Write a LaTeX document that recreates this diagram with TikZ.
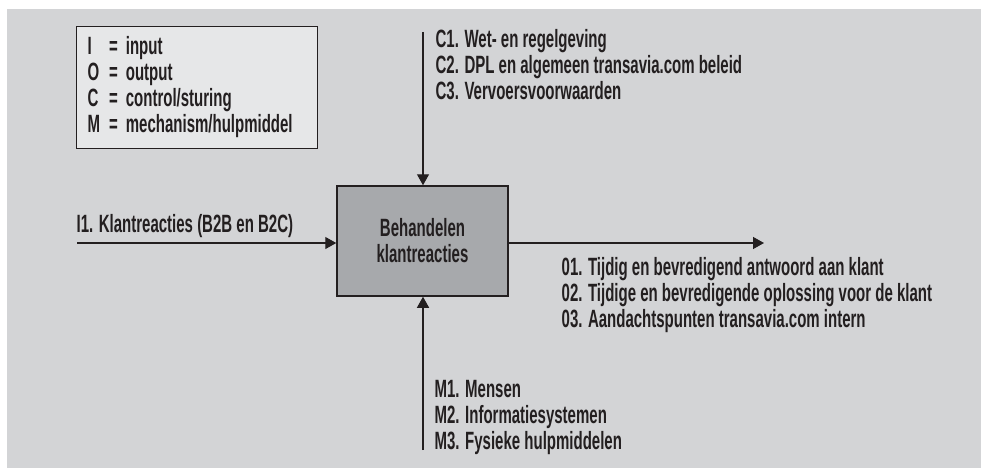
\documentclass[tikz,border=0pt]{standalone}
\usepackage{fontspec}
\newfontfamily\ideffont{Liberation Sans Bold}[FakeStretch=0.6]
\usetikzlibrary{arrows.meta}
\definecolor{idefbg}{HTML}{D3D4D6}
\definecolor{idefkey}{HTML}{E6E7E8}
\definecolor{idefbox}{HTML}{A7A9AC}
\definecolor{idefink}{HTML}{231F20}

\begin{document}
\begin{tikzpicture}[color=idefink, draw=idefink, line width=1.3pt, >={Triangle[width=12pt,length=11pt]}, x=1pt, y=-1pt,
  idefcap/.style={anchor=base west, inner sep=0pt, align=left, font=\ideffont\fontsize{25}{26}\selectfont}]
  \useasboundingbox (0,0) rectangle (981,468);
  \fill[idefbg] (7,9) rectangle (981,468);
  % legenda
  \node[draw, fill=idefkey, anchor=north west, minimum width=241pt, minimum height=122pt, inner sep=0pt] (key) at (76,26) {};
  \node[idefcap] (keytext) at (87,55) {\begin{tabular}[t]{@{}l@{\hspace{9pt}}l@{\hspace{8pt}}l@{}}
    I & = & input\\
    O & = & output\\
    C & = & control/sturing\\
    M & = & mechanism/hulpmiddel
  \end{tabular}};
  % activiteit
  \node[draw, line width=1.5pt, fill=idefbox, minimum width=171pt, minimum height=110pt, align=center,
    font=\ideffont\fontsize{25}{26}\selectfont] (proc) at (422.5,241) {Behandelen\\klantreacties};
  \coordinate (ctop) at (423,32);
  \coordinate (iin) at (77,243);
  \coordinate (oout) at (764,243);
  \coordinate (mbot) at (423,450);
  \draw[->] (ctop) -- (ctop |- proc.north);
  \draw[->] (iin) -- (iin -| proc.west);
  \draw[->] (oout -| proc.east) -- (oout);
  \draw[->] (mbot) -- (mbot |- proc.south);
  % teksten
  \node[idefcap] (ctext) at (435,48) {\begin{tabular}[t]{@{}l@{}}C1. Wet- en regelgeving\\C2. DPL en algemeen transavia.com beleid\\C3. Vervoersvoorwaarden\end{tabular}};
  \node[idefcap] (itext) at (76,232) {I1. Klantreacties (B2B en B2C)};
  \node[idefcap] (otext) at (561,275) {\begin{tabular}[t]{@{}l@{}}01. Tijdig en bevredigend antwoord aan klant\\02. Tijdige en bevredigende oplossing voor de klant\\03. Aandachtspunten transavia.com intern\end{tabular}};
  \node[idefcap] (mtext) at (434,397) {\begin{tabular}[t]{@{}l@{}}M1. Mensen\\M2. Informatiesystemen\\M3. Fysieke hulpmiddelen\end{tabular}};
\end{tikzpicture}
\end{document}
